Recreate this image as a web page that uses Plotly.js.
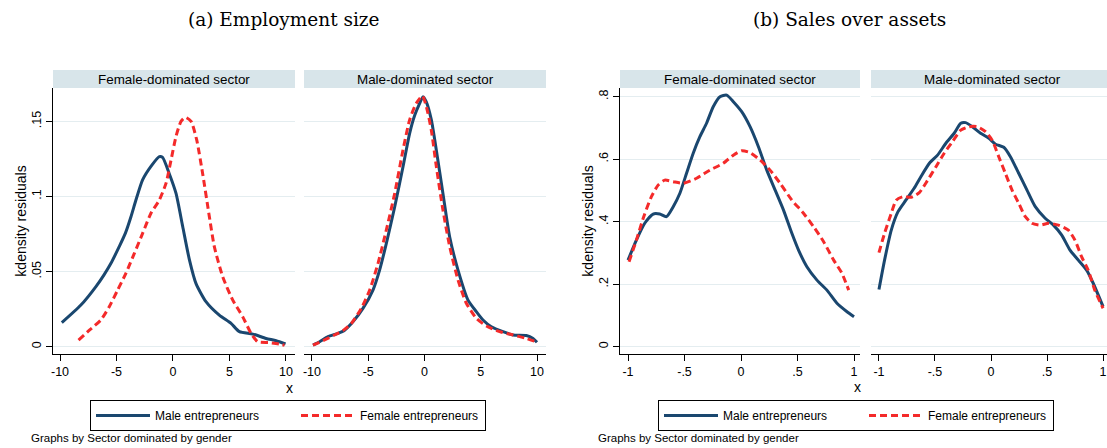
<!DOCTYPE html>
<html>
<head>
<meta charset="utf-8">
<script src="https://cdn.plot.ly/plotly-3.0.1.min.js"></script>
<style>
  html, body { margin: 0; padding: 0; background: #fff; }
  #chart { width: 1107px; height: 448px; }
</style>
</head>
<body>
<div id="chart"></div>
<script>
// ---------- Data ----------
const panelTitles = ["(a) Employment size", "(b) Sales over assets"];
const sectorLabels = ["Female-dominated sector", "Male-dominated sector"];
const seriesNames = ["Male entrepreneurs", "Female entrepreneurs"];

// (a) Employment size – Female-dominated sector
const aFemSecMaleX = [-9.84,-8.15,-6.82,-6.09,-5.49,-4.76,-4.22,-3.72,-3.28,-2.69,-1.95,-1.21,-0.92,-0.32,0.27,0.86,1.45,2.04,2.92,4.1,5.14,5.88,7.06,8.24,9.13,9.96];
const aFemSecMaleY = [0.016,0.0277,0.040,0.048,0.0555,0.0666,0.0754,0.0865,0.0976,0.111,0.120,0.1265,0.126,0.115,0.102,0.080,0.058,0.042,0.030,0.021,0.0155,0.010,0.0084,0.0055,0.004,0.0018];
const aFemSecFemX = [-8.36,-7.4,-6.38,-5.64,-4.9,-4.17,-3.43,-2.69,-1.95,-1.21,-0.62,-0.18,0.27,0.71,1.09,1.6,2.1,2.63,3.22,3.66,4.4,5.29,6.17,6.91,7.5,8.54,9.42,9.87];
const aFemSecFemY = [0.0044,0.011,0.0178,0.0266,0.0377,0.0488,0.062,0.0754,0.0888,0.0976,0.1087,0.124,0.140,0.150,0.1527,0.150,0.1376,0.115,0.0865,0.0666,0.0466,0.031,0.020,0.0089,0.0033,0.0027,0.0018,0.001];

// (a) Employment size – Male-dominated sector
const aMalSecMaleX = [-9.91,-9.32,-8.58,-7.69,-7.1,-6.36,-5.47,-4.58,-3.99,-3.39,-2.65,-1.91,-1.32,-0.87,-0.43,-0.13,0.16,0.61,1.05,1.64,2.24,2.98,3.87,4.61,5.2,5.94,6.98,7.87,9.05,9.65,10.0];
const aMalSecMaleY = [0.0011,0.0033,0.0067,0.0089,0.011,0.0166,0.0255,0.0377,0.051,0.0688,0.093,0.1198,0.142,0.154,0.162,0.1664,0.163,0.151,0.131,0.102,0.073,0.051,0.031,0.0233,0.0178,0.0133,0.010,0.0078,0.0075,0.0055,0.0029];
const aMalSecFemX = [-9.91,-9.02,-7.99,-7.25,-6.5,-5.62,-4.87,-4.13,-3.39,-2.65,-1.91,-1.32,-0.73,-0.19,0.16,0.61,1.05,1.64,2.24,2.98,3.72,4.61,5.5,6.68,7.87,9.05,9.93];
const aMalSecFemY = [0.001,0.004,0.0078,0.0107,0.0155,0.0255,0.0377,0.0555,0.0777,0.102,0.131,0.151,0.162,0.1669,0.160,0.144,0.120,0.091,0.0666,0.0444,0.0289,0.0189,0.0138,0.010,0.0078,0.0055,0.0033];

// (b) Sales over assets – Female-dominated sector
const bFemSecMaleX = [-1.0,-0.926,-0.852,-0.778,-0.719,-0.66,-0.60,-0.541,-0.482,-0.423,-0.364,-0.305,-0.246,-0.186,-0.127,-0.068,0.006,0.08,0.154,0.228,0.302,0.376,0.45,0.509,0.583,0.672,0.76,0.849,0.938,1.0];
const bFemSecMaleY = [0.277,0.341,0.395,0.4245,0.4245,0.416,0.448,0.491,0.555,0.619,0.672,0.715,0.768,0.800,0.805,0.784,0.752,0.704,0.64,0.565,0.501,0.437,0.3627,0.309,0.256,0.213,0.181,0.139,0.112,0.096];
const bFemSecFemX = [-0.991,-0.926,-0.861,-0.793,-0.734,-0.675,-0.60,-0.512,-0.393,-0.275,-0.157,-0.068,0.006,0.08,0.169,0.257,0.346,0.45,0.553,0.642,0.731,0.82,0.893,0.953];
const bFemSecFemY = [0.272,0.341,0.416,0.48,0.517,0.533,0.528,0.523,0.539,0.565,0.587,0.613,0.627,0.621,0.597,0.565,0.523,0.469,0.427,0.384,0.336,0.277,0.235,0.181];

// (b) Sales over assets – Male-dominated sector
const bMalSecMaleX = [-1.0,-0.95,-0.89,-0.83,-0.76,-0.686,-0.626,-0.55,-0.477,-0.403,-0.329,-0.27,-0.226,-0.167,-0.093,-0.019,0.04,0.114,0.173,0.247,0.321,0.395,0.483,0.557,0.631,0.705,0.779,0.853,0.912,1.0];
const bMalSecMaleY = [0.183,0.277,0.373,0.432,0.469,0.507,0.544,0.587,0.613,0.651,0.683,0.715,0.717,0.704,0.683,0.667,0.648,0.638,0.608,0.555,0.501,0.448,0.411,0.389,0.357,0.309,0.277,0.245,0.203,0.128];
const bMalSecFemX = [-1.0,-0.95,-0.89,-0.846,-0.787,-0.713,-0.64,-0.565,-0.491,-0.418,-0.344,-0.27,-0.196,-0.123,-0.049,0.01,0.069,0.128,0.188,0.247,0.306,0.365,0.439,0.513,0.601,0.69,0.749,0.808,0.867,0.926,1.0];
const bMalSecFemY = [0.301,0.363,0.427,0.469,0.48,0.478,0.493,0.533,0.576,0.619,0.656,0.693,0.704,0.704,0.688,0.661,0.608,0.555,0.501,0.459,0.416,0.395,0.389,0.395,0.389,0.373,0.341,0.288,0.245,0.181,0.123];

// Tick labels
const aXTickVals = [-10,-5,0,5,10];
const aXTickText = ["-10","-5","0","5","10"];
const aYTickVals = [0,0.05,0.1,0.15];
const aYTickText = ["0",".05",".1",".15"];
const bXTickVals = [-1,-0.5,0,0.5,1];
const bXTickText = ["-1","-.5","0",".5","1"];
const bYTickVals = [0,0.2,0.4,0.6,0.8];
const bYTickText = ["0",".2",".4",".6",".8"];

// ---------- Styling / layout ----------
const W = 1107, H = 448;
const px = v => v / W;
const py = v => 1 - v / H;
const BLUE = "#1a476f", RED = "#f42a2a";
const SANS = "Liberation Sans, Arial, sans-serif";
const SERIF = "DejaVu Serif, Liberation Serif, serif";
const GRID = "#e4edf0";
const STRIP = "#d8e5ea";

function line(x, y, xa, ya, isMale, legend, show) {
  const t = {
    type: "scatter", mode: "lines", x: x, y: y,
    xaxis: xa, yaxis: ya,
    name: isMale ? seriesNames[0] : seriesNames[1],
    legend: legend, showlegend: show,
    line: isMale ? {color: BLUE, width: 3, shape: "spline", smoothing: 0.6}
                 : {color: RED, width: 3, dash: "7px,4px", shape: "spline", smoothing: 0.6},
    hoverinfo: "skip"
  };
  if (!isMale) t.legendwidth = 120;
  return t;
}

const traces = [
  line(aFemSecMaleX, aFemSecMaleY, "x", "y", true, "legend", true),
  line(aFemSecFemX, aFemSecFemY, "x", "y", false, "legend", true),
  line(aMalSecMaleX, aMalSecMaleY, "x2", "y2", true, "legend", false),
  line(aMalSecFemX, aMalSecFemY, "x2", "y2", false, "legend", false),
  line(bFemSecMaleX, bFemSecMaleY, "x3", "y3", true, "legend2", true),
  line(bFemSecFemX, bFemSecFemY, "x3", "y3", false, "legend2", true),
  line(bMalSecMaleX, bMalSecMaleY, "x4", "y4", true, "legend2", false),
  line(bMalSecFemX, bMalSecFemY, "x4", "y4", false, "legend2", false)
];

function xax(domain, range, vals, text) {
  return {
    domain: domain, range: range, tickvals: vals, ticktext: text,
    showgrid: false, zeroline: false, showline: true, linecolor: "#000", linewidth: 1,
    ticks: "outside", ticklen: 6, tickcolor: "#000", tickwidth: 1,
    ticklabeloverflow: "allow",
    tickfont: {family: SANS, size: 12.5, color: "#000"}, fixedrange: true
  };
}
function yax(domain, range, vals, text, main, anchor) {
  return {
    domain: domain, range: range, tickvals: vals, ticktext: text, anchor: anchor,
    showgrid: true, gridcolor: GRID, gridwidth: 1, zeroline: false,
    showline: main, linecolor: "#000", linewidth: 1,
    ticks: main ? "outside" : "", ticklen: 6, tickcolor: "#000",
    showticklabels: main, tickangle: -90,
    tickfont: {family: SANS, size: 12.5, color: "#000"},
    title: main ? {text: "kdensity residuals", font: {family: SANS, size: 14, color: "#000"}, standoff: 0} : {text: ""},
    fixedrange: true
  };
}

const yDomA = [py(354), py(88)];
const legendBase = {
  yanchor: "top", xanchor: "left", orientation: "h",
  bordercolor: "#000", borderwidth: 1, bgcolor: "#fff",
  font: {family: SANS, size: 12, color: "#000"},
  itemwidth: 54, entrywidth: 136, entrywidthmode: "pixels", traceorder: "normal"
};
const layout = {
  width: W, height: H,
  margin: {l: 0, r: 0, t: 0, b: 0},
  paper_bgcolor: "#fff", plot_bgcolor: "#fff",
  xaxis:  xax([px(53), px(295)], [-10.62, 10.8], aXTickVals, aXTickText),
  xaxis2: xax([px(304), px(546)], [-10.71, 10.8], aXTickVals, aXTickText),
  xaxis3: xax([px(620), px(860)], [-1.071, 1.053], bXTickVals, bXTickText),
  xaxis4: xax([px(871), 1], [-1.071, 1.035], bXTickVals, bXTickText),
  yaxis:  yax(yDomA, [-0.00486, 0.1722], aYTickVals, aYTickText, true, "x"),
  yaxis2: yax(yDomA, [-0.00486, 0.1722], aYTickVals, aYTickText, false, "x2"),
  yaxis3: yax(yDomA, [-0.0234, 0.8278], bYTickVals, bYTickText, true, "x3"),
  yaxis4: yax(yDomA, [-0.0234, 0.8278], bYTickVals, bYTickText, false, "x4"),
  showlegend: true,
  legend: Object.assign({}, legendBase, {x: px(90), y: py(400)}),
  legend2: Object.assign({}, legendBase, {x: px(658), y: py(400)}),
  shapes: [
    {type: "rect", xref: "paper", yref: "paper", x0: px(53), x1: px(295), y0: py(88), y1: py(70), fillcolor: STRIP, line: {width: 0}, layer: "below"},
    {type: "rect", xref: "paper", yref: "paper", x0: px(304), x1: px(546), y0: py(88), y1: py(70), fillcolor: STRIP, line: {width: 0}, layer: "below"},
    {type: "rect", xref: "paper", yref: "paper", x0: px(620), x1: px(860), y0: py(88), y1: py(70), fillcolor: STRIP, line: {width: 0}, layer: "below"},
    {type: "rect", xref: "paper", yref: "paper", x0: px(871), x1: 1, y0: py(88), y1: py(70), fillcolor: STRIP, line: {width: 0}, layer: "below"}
  ],
  annotations: [
    {text: panelTitles[0], x: px(284), y: py(20), xref: "paper", yref: "paper", showarrow: false, xanchor: "center", yanchor: "middle", font: {family: SERIF, size: 18.5, color: "#000"}},
    {text: panelTitles[1], x: px(849), y: py(20), xref: "paper", yref: "paper", showarrow: false, xanchor: "center", yanchor: "middle", font: {family: SERIF, size: 18.5, color: "#000"}},
    {text: sectorLabels[0], x: px(174), y: py(79), xref: "paper", yref: "paper", showarrow: false, xanchor: "center", yanchor: "middle", font: {family: SANS, size: 13.4, color: "#000"}},
    {text: sectorLabels[1], x: px(425), y: py(79), xref: "paper", yref: "paper", showarrow: false, xanchor: "center", yanchor: "middle", font: {family: SANS, size: 13.4, color: "#000"}},
    {text: sectorLabels[0], x: px(740), y: py(79), xref: "paper", yref: "paper", showarrow: false, xanchor: "center", yanchor: "middle", font: {family: SANS, size: 13.4, color: "#000"}},
    {text: sectorLabels[1], x: px(992), y: py(79), xref: "paper", yref: "paper", showarrow: false, xanchor: "center", yanchor: "middle", font: {family: SANS, size: 13.4, color: "#000"}},
    {text: "x", x: px(289), y: py(388), xref: "paper", yref: "paper", showarrow: false, xanchor: "center", yanchor: "middle", font: {family: SANS, size: 14, color: "#000"}},
    {text: "x", x: px(857), y: py(387), xref: "paper", yref: "paper", showarrow: false, xanchor: "center", yanchor: "middle", font: {family: SANS, size: 14, color: "#000"}},
    {text: "Graphs by Sector dominated by gender", x: px(29), y: py(438), xref: "paper", yref: "paper", showarrow: false, xanchor: "left", yanchor: "middle", font: {family: SANS, size: 11.5, color: "#000"}},
    {text: "Graphs by Sector dominated by gender", x: px(596), y: py(438), xref: "paper", yref: "paper", showarrow: false, xanchor: "left", yanchor: "middle", font: {family: SANS, size: 11.5, color: "#000"}}
  ]
};

Plotly.newPlot("chart", traces, layout, {displayModeBar: false, staticPlot: true});
</script>
</body>
</html>
